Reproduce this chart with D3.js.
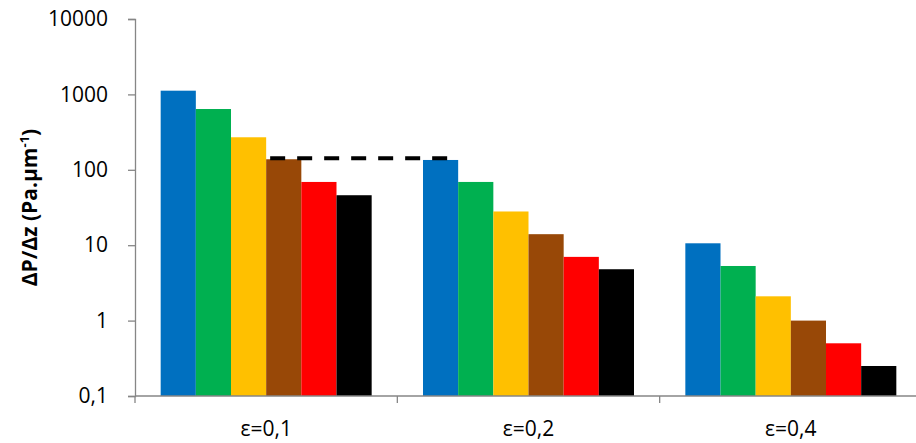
<!DOCTYPE html>
<html>
<head>
<meta charset="utf-8">
<script src="https://cdn.jsdelivr.net/npm/d3@7"></script>
<style>
body { margin: 0; background: #fff; }
text { font-family: "Open Sans", Lato, sans-serif; fill: #000; }
</style>
</head>
<body>
<svg id="chart"></svg>
<script>
// data
var categories = ["ε=0,1", "ε=0,2", "ε=0,4"];
var seriesNames = ["s1", "s2", "s3", "s4", "s5", "s6"];
var seriesColors = ["#0070c0", "#00b050", "#ffc000", "#984807", "#ff0000", "#000000"];
var s1 = [1120, 135, 10.6];
var s2 = [640, 69, 5.3];
var s3 = [270, 28, 2.1];
var s4 = [138, 14, 1.0];
var s5 = [69, 7.0, 0.5];
var s6 = [46, 4.8, 0.25];
var yTicks = [0.1, 1, 10, 100, 1000, 10000];
var refLevel = 142; // dashed line

var screen = {width: 916, height: 443}
var margins = {top: 19, right: -6, bottom: 47, left: 135}

var svg = d3.select("#chart")
    .attr("width", screen.width)
    .attr("height", screen.height);

var width = screen.width - margins.left - margins.right;
var height = screen.height - margins.top - margins.bottom;

var g = svg.append("g")
    .attr("transform", "translate(" + margins.left + "," + margins.top + ")");

var xScale = d3.scaleBand().domain(categories).range([0, width]).paddingInner(0).paddingOuter(0);
var inner = d3.scaleBand().domain(seriesNames).range([0, xScale.bandwidth()]).paddingOuter(0.73);
var yScale = d3.scaleLog().domain([0.1, 10000]).range([height, 0]);

var allSeries = [s1, s2, s3, s4, s5, s6];
var rows = [];
categories.forEach(function(c, ci) {
    allSeries.forEach(function(s, si) {
        rows.push({cat: c, name: seriesNames[si], value: s[ci], color: seriesColors[si]});
    });
});

g.selectAll(".bar")
    .data(rows)
    .enter()
    .append("rect")
    .attr("class", "bar")
    .attr("x", function(d) { return xScale(d.cat) + inner(d.name); })
    .attr("width", inner.bandwidth())
    .attr("y", function(d) { return yScale(d.value); })
    .attr("height", function(d) { return height - yScale(d.value); })
    .attr("fill", function(d) { return d.color; });

// dashed line from brown bar of group 1 to blue bar of group 2
g.append("line")
    .attr("x1", xScale(categories[0]) + inner("s4") + 4)
    .attr("x2", xScale(categories[1]) + inner("s1") + inner.bandwidth() * 0.72)
    .attr("y1", yScale(refLevel))
    .attr("y2", yScale(refLevel))
    .attr("stroke", "#000")
    .attr("stroke-width", 4)
    .attr("stroke-dasharray", "15,12");

// y axis
var yAxis = d3.axisLeft(yScale)
    .tickValues(yTicks)
    .tickSize(7)
    .tickPadding(20)
    .tickFormat(function(d) { return d < 1 ? "0,1" : d3.format("d")(d); });
var ya = g.append("g").call(yAxis);
ya.attr("font-size", 21);
ya.select(".domain").attr("stroke", "#868686").attr("stroke-width", 1.3);
ya.selectAll(".tick line").attr("stroke", "#868686").attr("stroke-width", 1.3);
ya.selectAll("text").style("font-size", "21px").attr("fill", "#000");

// x axis
var xa = g.append("g").attr("transform", "translate(0," + height + ")");
xa.append("line").attr("x1", 0).attr("x2", width).attr("stroke", "#868686").attr("stroke-width", 1.3);
xa.selectAll(".xt")
    .data(categories.concat(["end"]))
    .enter()
    .append("line")
    .attr("x1", function(d, i) { return i * xScale.step(); })
    .attr("x2", function(d, i) { return i * xScale.step(); })
    .attr("y1", 0).attr("y2", 7)
    .attr("stroke", "#868686").attr("stroke-width", 1.3);
xa.selectAll(".xl")
    .data(categories)
    .enter()
    .append("text")
    .attr("x", function(d) { return xScale(d) + xScale.bandwidth() / 2; })
    .attr("y", 40)
    .attr("text-anchor", "middle")
    .style("font-size", "21px")
    .text(function(d) { return d; });

// y label
var lab = svg.append("text")
    .attr("transform", "translate(37," + (margins.top + height / 2) + ") rotate(-90)")
    .attr("text-anchor", "middle")
    .style("font-size", "21px")
    .style("font-weight", "bold");
lab.append("tspan").text("ΔP/Δz (Pa.µm");
lab.append("tspan").attr("dy", -8).style("font-size", "13px").text("-1");
lab.append("tspan").attr("dy", 8).text(")");
</script>
</body>
</html>
